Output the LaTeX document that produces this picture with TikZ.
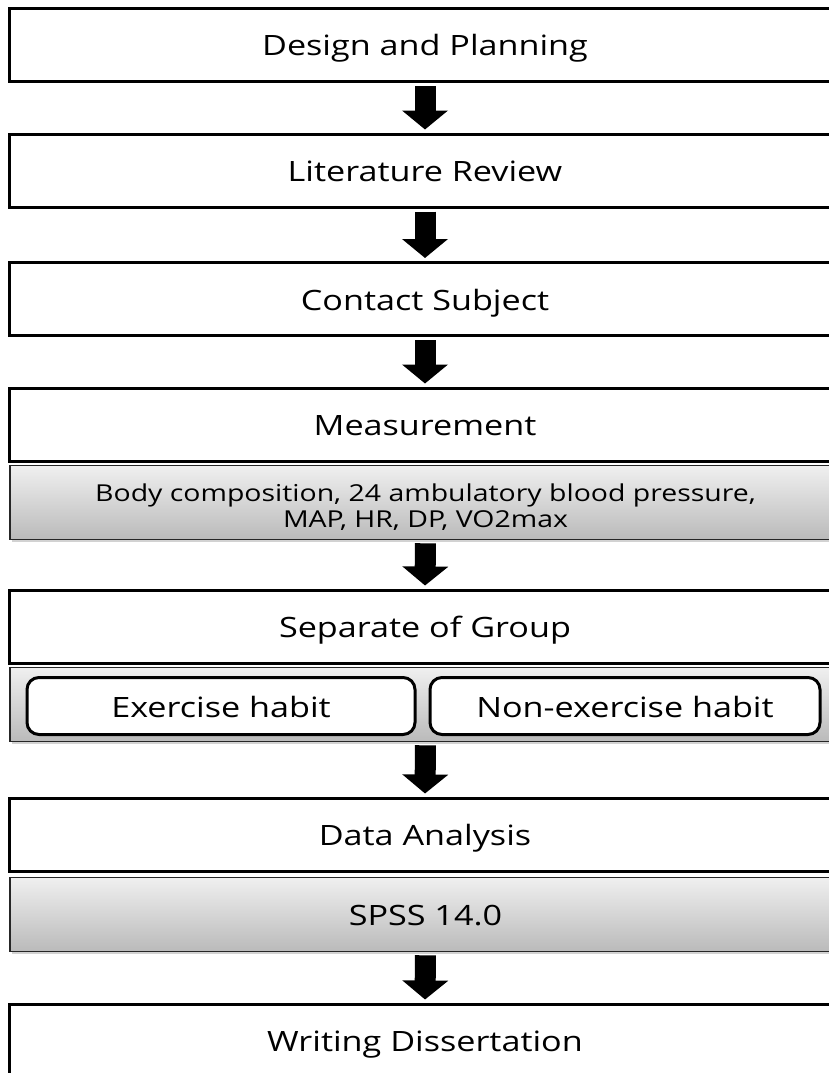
\documentclass[tikz,border=0pt]{standalone}
\usepackage{fontspec}
\setmainfont{Open Sans}[FakeStretch=1.22]
\usetikzlibrary{arrows.meta,shadows}
\tikzset{
  wbox/.style={draw=black, line width=3pt, fill=white, minimum width=832pt, minimum height=73pt,
    inner sep=0pt, text height=22pt, text depth=0pt, font=\fontsize{28}{32}\selectfont},
  gbox/.style={draw=black!85, line width=1.6pt, top color=black!6, bottom color=black!27,
    minimum width=831pt, minimum height=74pt, inner sep=0pt,
    drop shadow={opacity=0.35, shadow xshift=1.5pt, shadow yshift=-2pt}},
  rbox/.style={draw=black, line width=3pt, fill=white, rounded corners=12pt, minimum height=57pt,
    inner sep=0pt, text height=22pt, text depth=0pt, font=\fontsize{28}{32}\selectfont},
  gtext/.style={inner sep=0pt, align=center, font=\fontsize{23.3}{26}\selectfont},
  flow/.style={line width=21pt, -{Triangle[width=45pt,length=19pt]}, shorten <=3pt, shorten >=3pt}
}
\begin{document}
\begin{tikzpicture}[x=1pt,y=-1pt]
\clip (0,0) rectangle (829,1073);
\fill[white] (0,0) rectangle (829,1073);

\node[wbox] (b1) at (425,45) {Design and Planning};
\node[wbox] (b2) at (425,170.5) {Literature Review};
\node[wbox] (b3) at (425,299) {Contact Subject};
\node[wbox] (b4) at (425,424.5) {Measurement};
\node[gbox] (g4) at (425.5,502.5) {};
\node[gtext] (g4t) at (425.5,507) {Body composition, 24 ambulatory blood pressure,\\MAP, HR, DP, VO2max};
\node[wbox] (b5) at (425,626.5) {Separate of Group};
\node[gbox] (g5) at (425.5,704.5) {};
\node[rbox, minimum width=388pt] (r1) at (221,706) {Exercise habit};
\node[rbox, minimum width=390pt] (r2) at (625,706) {Non-exercise habit};
\node[wbox] (b6) at (425,834.5) {Data Analysis};
\node[gbox, text height=22pt, text depth=0pt, font=\fontsize{28}{32}\selectfont] (g6) at (425.5,914.5) {SPSS 14.0};
\node[wbox] (b7) at (425,1040.5) {Writing Dissertation};

\draw[flow] (b1.south) -- (b2.north);
\draw[flow] (b2.south) -- (b3.north);
\draw[flow] (b3.south) -- (b4.north);
\draw[flow] (g4.south) -- (b5.north);
\draw[flow] (g5.south) -- (b6.north);
\draw[flow] (g6.south) -- (b7.north);
\end{tikzpicture}
\end{document}
